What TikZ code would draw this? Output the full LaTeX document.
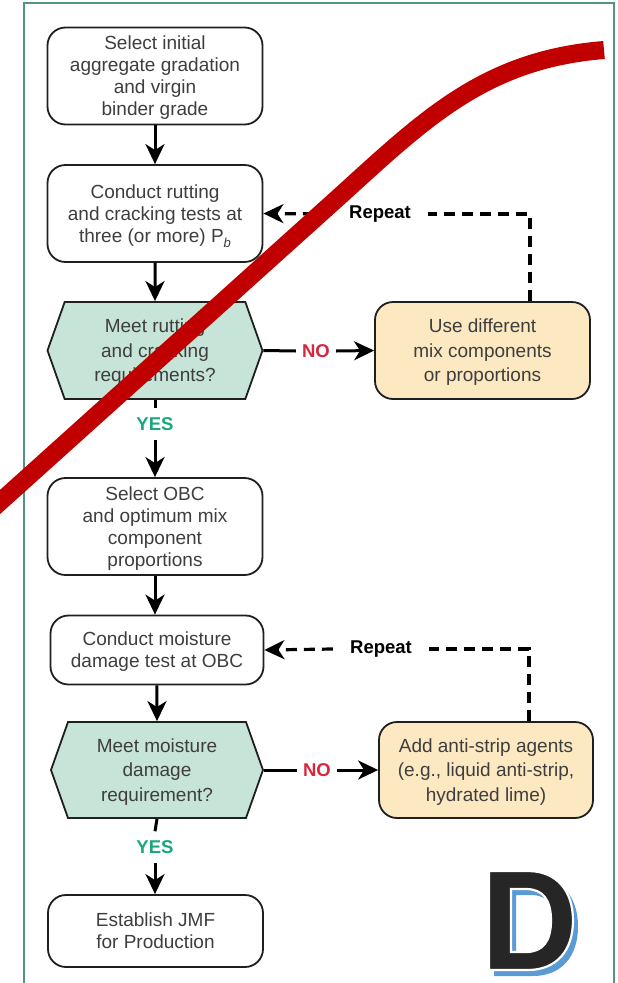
\documentclass[tikz,border=0pt]{standalone}
\usepackage{fontspec}
\setmainfont{Liberation Sans}
\usetikzlibrary{arrows.meta,shapes.symbols}

\definecolor{linec}{HTML}{1F1F1F}
\definecolor{textc}{HTML}{3E3E3E}
\definecolor{hexfill}{HTML}{C6E4D7}
\definecolor{optfill}{HTML}{FCE8C1}
\definecolor{nored}{HTML}{D7263D}
\definecolor{yesgreen}{HTML}{18A77E}
\definecolor{framec}{HTML}{4F9683}
\definecolor{strikered}{HTML}{C00000}
\definecolor{logoblue}{HTML}{5B9BD5}
\definecolor{logoblack}{HTML}{262626}

\tikzset{
  procbox/.style={draw=linec, line width=1.8pt, rounded corners=18pt, fill=white,
    minimum width=215pt, minimum height=97pt, align=center, text=textc,
    font=\fontsize{19}{22}\selectfont, inner sep=0pt, text depth=0pt},
  optbox/.style={procbox, fill=optfill, font=\fontsize{19}{24.5}\selectfont},
  hexbox/.style={signal, signal to=west and east, signal pointer angle=141,
    draw=linec, line width=1.8pt, fill=hexfill, minimum width=215pt,
    minimum height=97pt, align=center, text=textc,
    font=\fontsize{19}{24.5}\selectfont, inner sep=0pt, text depth=0pt},
  flow/.style={line width=3pt, draw=black},
  arr/.style={flow, -{Stealth[length=20pt,width=19pt,inset=6pt]}},
  loopline/.style={line width=3.2pt, draw=black, dash pattern=on 11pt off 7pt},
  looparr/.style={loopline, -{Stealth[length=20pt,width=19pt,inset=6pt]}},
  nolabel/.style={font=\bfseries\fontsize{18.5}{18.5}\selectfont, text=nored,
    inner xsep=6pt, inner ysep=2pt},
  yeslabel/.style={font=\bfseries\fontsize{18.5}{18.5}\selectfont, text=yesgreen,
    inner xsep=2pt, inner ysep=9pt},
  replabel/.style={font=\bfseries\fontsize{18.5}{18.5}\selectfont, text=black,
    inner xsep=17pt, inner ysep=2pt},
}

\begin{document}
\begin{tikzpicture}[x=1pt, y=-1pt]
\useasboundingbox (0,0) rectangle (618,983);
\clip (0,0) rectangle (618,983);

% outer frame (open at the bottom)
\draw[framec, line width=2pt] (23.5,990) -- (23.5,3) -- (614,3) -- (614,990);

% main column
\node[procbox] (b1) at (155,76) {Select initial\\aggregate gradation\\and virgin\\binder grade};
\node[procbox] (b2) at (155,213.5) {Conduct rutting\\and cracking tests at\\three (or more) P\raisebox{-0.28em}{\fontsize{13}{13}\selectfont\itshape b}};
\node[hexbox] (h1) at (155,350.5) {Meet rutting\\and cracking\\requirements?};
\node[procbox] (b3) at (155,526.5) {Select OBC\\and optimum mix\\component\\proportions};
\node[procbox, minimum width=213pt, minimum height=69pt] (b4) at (157,650) {Conduct moisture\\damage test at OBC};
\node[hexbox, minimum width=212pt, minimum height=96pt] (h2) at (157,770) {Meet moisture\\damage\\requirement?};
\node[procbox, minimum height=72pt] (b5) at (155.5,931) {Establish JMF\\for Production};

% side boxes
\node[optbox] (o1) at (482.5,350.5) {Use different\\mix components\\or proportions};
\node[optbox, minimum width=214pt, minimum height=96pt] (o2) at (486,770) {Add anti-strip agents\\(e.g., liquid anti-strip,\\hydrated lime)};

% branch labels
\node[nolabel] (no1) at (316,351) {NO};
\node[nolabel] (no2) at (317,770) {NO};
\node[yeslabel] (yes1) at (155,424) {YES};
\node[yeslabel] (yes2) at (155,847) {YES};
\node[replabel] (rep1) at (380,214) {Repeat};
\node[replabel] (rep2) at (381,649) {Repeat};
\coordinate (c1) at (530,214);
\coordinate (c2) at (529,649);

% forward flow
\draw[arr] (b1) -- (b2);
\draw[arr] (b2) -- (h1);
\draw[flow] (h1.south) -- (yes1.north);
\draw[arr] (yes1.south) -- (b3.north);
\draw[arr] (b3.south) -- (b3.south |- b4.north);
\draw[arr] (b4) -- (h2);
\draw[flow] (h2.south) -- (yes2.north);
\draw[arr] (yes2.south) -- (yes2.south |- b5.north);

\draw[flow] (h1.east) -- (no1.west);
\draw[arr] (no1.east) -- (o1.west);
\draw[flow] (h2.east) -- (no2.west);
\draw[arr] (no2.east) -- (o2.west);

% repeat loops
\draw[loopline] (c1 |- o1.north) -- (c1) -- (rep1.east);
\draw[looparr] (rep1.west) -- (b2.east);
\draw[loopline] (c2 |- o2.north) -- (c2) -- (rep2.east);
\draw[looparr] (rep2.west) -- (b4.east);

% logo letter with offset blue shadow
\fill[logoblue, even odd rule, shift={(5,6)}]
  (489,871) -- (528,871) .. controls (556,871) and (573,890) .. (573,920.5)
  .. controls (573,951) and (556,970) .. (528,970) -- (489,970) -- cycle
  (511,889) -- (526,889) .. controls (543,889) and (551,900) .. (551,920.5)
  .. controls (551,941) and (543,952) .. (526,952) -- (511,952) -- cycle;
\filldraw[fill=logoblack, draw=white, line width=2.2pt, even odd rule]
  (489,871) -- (528,871) .. controls (556,871) and (573,890) .. (573,920.5)
  .. controls (573,951) and (556,970) .. (528,970) -- (489,970) -- cycle
  (511,889) -- (526,889) .. controls (543,889) and (551,900) .. (551,920.5)
  .. controls (551,941) and (543,952) .. (526,952) -- (511,952) -- cycle;

% red strike across the chart
\draw[strikered, line width=18pt, line cap=butt]
  (-20,520) -- (330,205) .. controls (420,124) and (480,60) .. (604,50);
\end{tikzpicture}
\end{document}
